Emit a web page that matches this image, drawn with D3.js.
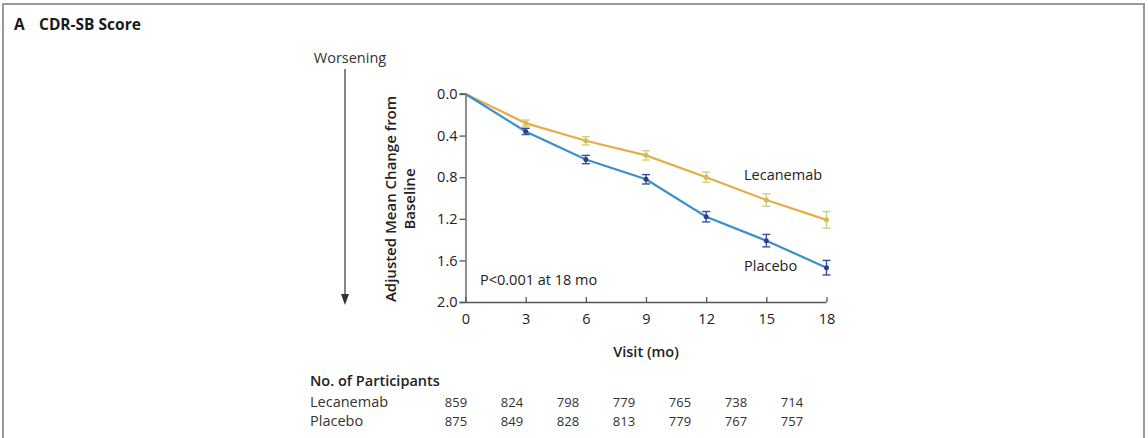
<!DOCTYPE html>
<html>
<head>
<meta charset="utf-8">
<script src="https://cdn.jsdelivr.net/npm/d3@7"></script>
<style>
  body { margin: 0; background: #fff; }
  svg { display: block; font-family: "Open Sans", "Noto Sans", sans-serif; }
</style>
</head>
<body>
<svg id="chart"></svg>
<script>
const months = [0, 3, 6, 9, 12, 15, 18];
const lecanemab = [0, 0.28, 0.45, 0.59, 0.80, 1.02, 1.21];
const lecanemabErr = [0, 0.03, 0.04, 0.045, 0.05, 0.06, 0.08];
const placebo = [0, 0.36, 0.63, 0.82, 1.18, 1.41, 1.67];
const placeboErr = [0, 0.03, 0.04, 0.045, 0.05, 0.06, 0.07];
const yTicks = [0.0, 0.4, 0.8, 1.2, 1.6, 2.0];
const participantsLecanemab = [859, 824, 798, 779, 765, 738, 714];
const participantsPlacebo = [875, 849, 828, 813, 779, 767, 757];

const W = 1148, H = 438;
const svg = d3.select('#chart').attr('width', W).attr('height', H);

// outer frame
svg.append('path')
    .attr('d', `M3,${H} V4 H1144 V${H}`)
    .attr('fill', 'none').attr('stroke', '#9a9a9a').attr('stroke-width', 2);

svg.append('text').attr('x', 14).attr('y', 30)
    .style('font-size', '15.5px').style('font-weight', 700).attr('fill', '#1a1a1a')
    .text('A');
svg.append('text').attr('x', 39).attr('y', 30)
    .style('font-size', '15.5px').style('font-weight', 700).attr('fill', '#1a1a1a')
    .text('CDR-SB Score');

const x = d3.scaleLinear().domain([0, 18]).range([465.5, 826.5]);
const y = d3.scaleLinear().domain([0, 2]).range([94, 302]);

const axisColor = '#555';

const xAxis = svg.append('g')
    .attr('transform', `translate(0, ${y(2)})`)
    .call(d3.axisBottom(x).tickValues(months).tickSize(-5).tickPadding(3));
const yAxis = svg.append('g')
    .attr('transform', `translate(${x(0)}, 0)`)
    .call(d3.axisLeft(y).tickValues(yTicks).tickFormat(d3.format('.1f')).tickSize(6).tickPadding(2));

[xAxis, yAxis].forEach(g => {
    g.select('.domain').attr('stroke', axisColor).attr('stroke-width', 1.3);
    g.selectAll('.tick line').attr('stroke', axisColor).attr('stroke-width', 1.3);
    g.selectAll('.tick text').attr('fill', '#222').style('font-size', '14.5px')
        .style('font-family', '"Open Sans", sans-serif');
});
xAxis.select('.domain').attr('d', `M${x(0) - 6},0.5H${x(18)}`);
xAxis.selectAll('.tick line').attr('y1', 0).attr('y2', -5);
xAxis.selectAll('.tick text').attr('y', 9).attr('dy', '0.9em');
yAxis.select('.domain').attr('d', `M-6,${y(0)}H0.5V${y(2)}`);

// series
const series = [
    { vals: placebo, err: placeboErr, line: '#3b8fcb', mark: '#2c3f8e', bar: '#3a4f99' },
    { vals: lecanemab, err: lecanemabErr, line: '#e6ad45', mark: '#d9b85a', bar: '#cfd088' }
];

const line = d3.line().x((d, i) => x(months[i])).y(d => y(d));

series.slice().reverse().forEach(s => {
    svg.append('path').datum(s.vals)
        .attr('fill', 'none').attr('stroke', s.line).attr('stroke-width', 2.2)
        .attr('d', line);
});

series.forEach(s => {
    const g = svg.append('g');
    s.vals.forEach((v, i) => {
        if (i === 0) return;
        const cx = x(months[i]);
        const y1 = y(v - s.err[i]), y2 = y(v + s.err[i]);
        g.append('line').attr('x1', cx).attr('x2', cx).attr('y1', y1).attr('y2', y2)
            .attr('stroke', s.bar).attr('stroke-width', 1.4);
        [y1, y2].forEach(yy => g.append('line')
            .attr('x1', cx - 4).attr('x2', cx + 4).attr('y1', yy).attr('y2', yy)
            .attr('stroke', s.bar).attr('stroke-width', 1.4));
        g.append('circle').attr('cx', cx).attr('cy', y(v)).attr('r', 2.5).attr('fill', s.mark);
    });
});

// series labels
const labelStyle = sel => sel.style('font-size', '14.5px').attr('fill', '#222');
svg.append('text').attr('x', 744).attr('y', 180).call(labelStyle).text('Lecanemab');
svg.append('text').attr('x', 744).attr('y', 271).call(labelStyle).text('Placebo');
svg.append('text').attr('x', 480).attr('y', 285).call(labelStyle).text('P<0.001 at 18 mo');

// worsening arrow
svg.append('text').attr('x', 350).attr('y', 63).attr('text-anchor', 'middle')
    .style('font-size', '14.5px').attr('fill', '#333').text('Worsening');
svg.append('line').attr('x1', 345).attr('x2', 345).attr('y1', 69).attr('y2', 296)
    .attr('stroke', '#444').attr('stroke-width', 1.3);
svg.append('path').attr('d', 'M341,294 L349,294 L345,305 Z').attr('fill', '#333');

// y label
const yl = svg.append('text')
    .attr('transform', `translate(396, ${(y(0) + y(2)) / 2 + 1}) rotate(-90)`)
    .attr('text-anchor', 'middle').style('font-size', '15px').style('font-weight', 600)
    .attr('fill', '#222');
yl.append('tspan').attr('x', 0).attr('dy', 0).text('Adjusted Mean Change from');
yl.append('tspan').attr('x', 0).attr('dy', 19).text('Baseline');

// x label
svg.append('text').attr('x', (x(0) + x(18)) / 2).attr('y', 357).attr('text-anchor', 'middle')
    .style('font-size', '14.5px').style('font-weight', 600).attr('fill', '#222').text('Visit (mo)');

// participants table
const tx = d3.scalePoint().domain(months).range([456, 792]);
svg.append('text').attr('x', 310).attr('y', 386)
    .style('font-size', '14.5px').style('font-weight', 600).attr('fill', '#222').text('No. of Participants');
[['Lecanemab', participantsLecanemab, 407], ['Placebo', participantsPlacebo, 426]].forEach(([name, vals, yy]) => {
    svg.append('text').attr('x', 310).attr('y', yy)
        .style('font-size', '14.5px').attr('fill', '#333').text(name);
    svg.append('g').selectAll('text').data(vals).join('text')
        .attr('x', (d, i) => tx(months[i])).attr('y', yy).attr('text-anchor', 'middle')
        .style('font-size', '13px').attr('fill', '#333').text(d => d);
});
</script>
</body>
</html>
